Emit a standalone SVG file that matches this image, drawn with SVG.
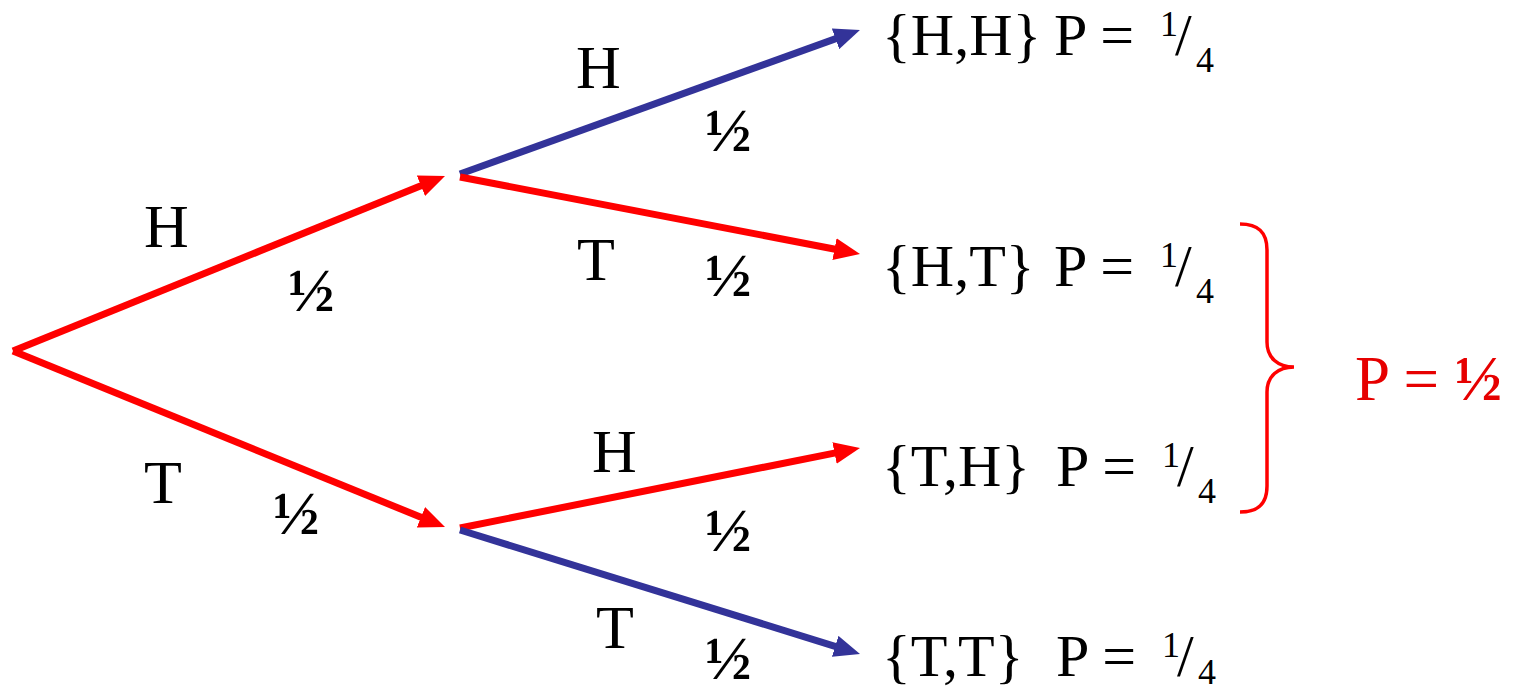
<svg xmlns="http://www.w3.org/2000/svg" width="1513" height="693" viewBox="0 0 1513 693">
<style>
.t{font-family:"Liberation Serif","Times New Roman",serif;fill:#000;}
.lbl{font-size:62px;}
.half{font-size:62px;font-weight:bold;}
.set{font-size:60px;}
.sup{font-size:36px;}
.red{stroke:#ff0000;stroke-width:7;fill:none;}
.blue{stroke:#333399;stroke-width:7;fill:none;}
</style>
<defs>
<marker id="ar" markerUnits="userSpaceOnUse" viewBox="0 0 26 22" refX="10" refY="11" markerWidth="26" markerHeight="22" orient="auto"><path d="M0,0 L26,11 L0,22 z" fill="#ff0000"/></marker>
<marker id="ab" markerUnits="userSpaceOnUse" viewBox="0 0 26 22" refX="10" refY="11" markerWidth="26" markerHeight="22" orient="auto"><path d="M0,0 L26,11 L0,22 z" fill="#333399"/></marker>
</defs>
<rect width="1513" height="693" fill="#fff"/>
<g id="connectors">
<line class="red" x1="13" y1="351" x2="430.2" y2="182" marker-end="url(#ar)"/>
<line class="red" x1="13" y1="351" x2="430.2" y2="521" marker-end="url(#ar)"/>
<line class="blue" x1="460" y1="174" x2="844.9" y2="35.4" marker-end="url(#ab)"/>
<line class="red" x1="460" y1="177" x2="844.3" y2="251" marker-end="url(#ar)"/>
<line class="red" x1="460" y1="528" x2="844.3" y2="451.1" marker-end="url(#ar)"/>
<line class="blue" x1="460" y1="530" x2="844.7" y2="649.3" marker-end="url(#ab)"/>
</g>
<g id="labels">
<text class="t lbl" x="144" y="247">H</text>
<text class="t half" x="288" y="311">½</text>
<text class="t lbl" x="144" y="503">T</text>
<text class="t half" x="273" y="534">½</text>
<text class="t lbl" x="576" y="88">H</text>
<text class="t half" x="705" y="151">½</text>
<text class="t lbl" x="577" y="280">T</text>
<text class="t half" x="705" y="296">½</text>
<text class="t lbl" x="592" y="472">H</text>
<text class="t half" x="705" y="551">½</text>
<text class="t lbl" x="596" y="648">T</text>
<text class="t half" x="705" y="679">½</text>
</g>
<g id="outcome-HH">
<text class="t set" x="882" y="55">{H,H}</text>
<text class="t set" x="1054" y="55">P =</text>
<text class="t sup" x="1160" y="36">1</text>
<text class="t set" x="1175" y="55">/</text>
<text class="t sup" x="1196" y="72">4</text>
</g>
<g id="outcome-HT">
<text class="t set" x="882" y="286">{H,T}</text>
<text class="t set" x="1054" y="286">P =</text>
<text class="t sup" x="1160" y="267">1</text>
<text class="t set" x="1175" y="286">/</text>
<text class="t sup" x="1196" y="303">4</text>
</g>
<g id="outcome-TH">
<text class="t set" x="882" y="486">{T,H}</text>
<text class="t set" x="1056" y="486">P =</text>
<text class="t sup" x="1162" y="467">1</text>
<text class="t set" x="1177" y="486">/</text>
<text class="t sup" x="1198" y="503">4</text>
</g>
<g id="outcome-TT">
<text class="t set" x="882" y="676">{T,T}</text>
<text class="t set" x="1056" y="676">P =</text>
<text class="t sup" x="1162" y="657">1</text>
<text class="t set" x="1177" y="676">/</text>
<text class="t sup" x="1198" y="684">4</text>
</g>
<g id="brace-total">
<path d="M1240,224 C1258,224 1267,232 1267,250 L1267,342 C1267,358 1278,367 1294,367 C1278,367 1267,376 1267,392 L1267,486 C1267,504 1258,512 1240,512" fill="none" stroke="#ff0000" stroke-width="3.5"/>
<text class="t" x="1355" y="400" font-size="63" style="fill:#e60000">P = <tspan font-weight="bold">½</tspan></text>
</g>
</svg>
